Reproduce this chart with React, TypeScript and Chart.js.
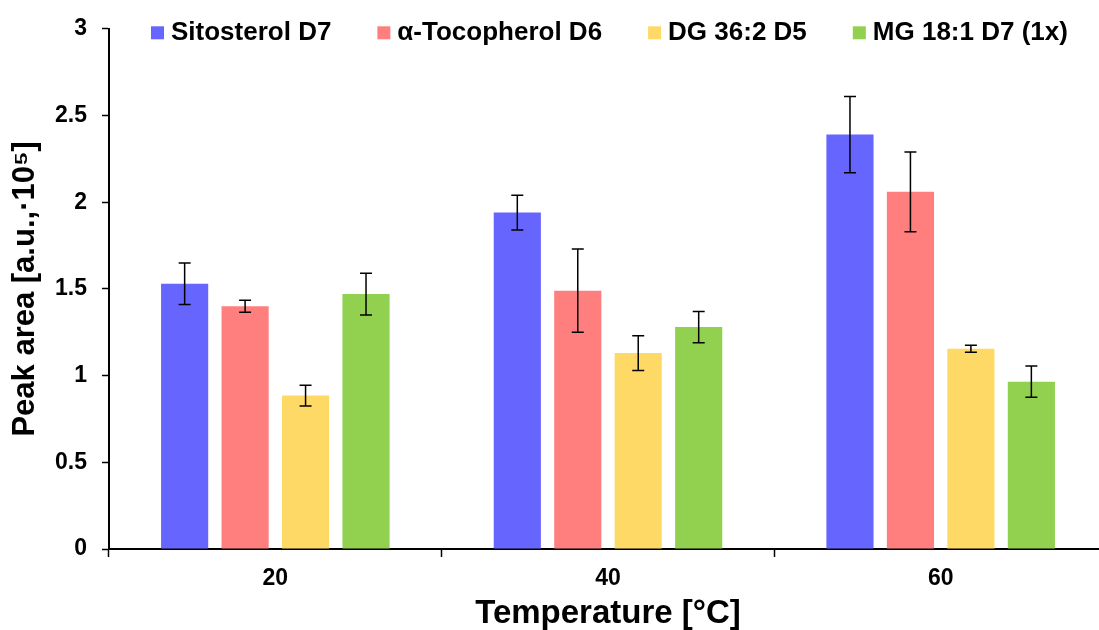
import React, { useEffect, useRef } from "react";
import { Chart, registerables } from "chart.js";

Chart.register(...registerables);

const categories = ["20", "40", "60"];
const seriesNames = ["Sitosterol D7", "α-Tocopherol D6", "DG 36:2 D5", "MG 18:1 D7 (1x)"];
const seriesColors = ["#6666FF", "#FF7F7F", "#FFD966", "#92D050"];
const sitosterol = [1.53, 1.94, 2.39];
const sitosterolErr = [0.12, 0.1, 0.22];
const tocopherol = [1.4, 1.49, 2.06];
const tocopherolErr = [0.035, 0.24, 0.23];
const dg = [0.885, 1.13, 1.155];
const dgErr = [0.06, 0.1, 0.02];
const mg = [1.47, 1.28, 0.965];
const mgErr = [0.12, 0.09, 0.09];
const yTicks = [0, 0.5, 1, 1.5, 2, 2.5, 3];

const seriesValues = [sitosterol, tocopherol, dg, mg];
const seriesErrors = [sitosterolErr, tocopherolErr, dgErr, mgErr];

const FONT = "'Liberation Sans', Arial, sans-serif";

const errorBarPlugin = {
  id: "errorBars",
  afterDatasetsDraw(chart: any) {
    const ctx = chart.ctx;
    const yScale = chart.scales.y;
    ctx.save();
    ctx.strokeStyle = "#000";
    ctx.lineWidth = 1.5;
    chart.data.datasets.forEach((ds: any, i: number) => {
      const meta = chart.getDatasetMeta(i);
      meta.data.forEach((bar: any, j: number) => {
        const v = ds.data[j];
        const e = ds.errors[j];
        const yTop = yScale.getPixelForValue(v + e);
        const yBot = yScale.getPixelForValue(v - e);
        const x = bar.x;
        const cap = 6;
        ctx.beginPath();
        ctx.moveTo(x, yTop);
        ctx.lineTo(x, yBot);
        ctx.moveTo(x - cap, yTop);
        ctx.lineTo(x + cap, yTop);
        ctx.moveTo(x - cap, yBot);
        ctx.lineTo(x + cap, yBot);
        ctx.stroke();
      });
    });
    ctx.restore();
  },
};

const legendPlugin = {
  id: "customLegend",
  afterDraw(chart: any) {
    const ctx = chart.ctx;
    const area = chart.chartArea;
    ctx.save();
    ctx.font = `bold 26px ${FONT}`;
    ctx.textBaseline = "middle";
    ctx.textAlign = "left";
    let x = area.left + 42;
    const yMid = area.top + 4;
    const box = 13;
    chart.data.datasets.forEach((ds: any) => {
      ctx.fillStyle = ds.backgroundColor;
      ctx.fillRect(x, yMid - box / 2, box, box);
      ctx.fillStyle = "#000";
      ctx.fillText(ds.label, x + box + 7, yMid);
      x += box + 7 + ctx.measureText(ds.label).width + 46;
    });
    ctx.restore();
  },
};

export default function App() {
  const ref = useRef<HTMLCanvasElement>(null);
  useEffect(() => {
    if (!ref.current) return;
    const chart = new Chart(ref.current, {
      type: "bar",
      data: {
        labels: categories,
        datasets: seriesNames.map((name, i) => ({
          label: name,
          data: seriesValues[i],
          errors: seriesErrors[i],
          backgroundColor: seriesColors[i],
          borderWidth: 0,
          categoryPercentage: 0.727,
          barPercentage: 0.78,
        })) as any,
      },
      options: {
        animation: false,
        responsive: false,
        maintainAspectRatio: false,
        layout: { padding: { top: 28, right: 0, left: 0, bottom: 0 } },
        plugins: {
          tooltip: { enabled: false },
          legend: { display: false },
        },
        scales: {
          x: {
            grid: {
              offset: true,
              drawOnChartArea: false,
              drawTicks: true,
              tickLength: 8,
              tickColor: "#000",
              tickWidth: 1.5,
            },
            border: { display: true, color: "#000", width: 2 },
            ticks: {
              color: "#000",
              padding: 8,
              font: { family: FONT, size: 23, weight: "bold" },
            },
            title: {
              display: true,
              text: "Temperature [°C]",
              color: "#000",
              padding: { top: 0, bottom: 0 },
              font: { family: FONT, size: 33, weight: "bold", lineHeight: 1.0 },
            },
            afterFit(scale: any) {
              scale.height = 81;
            },
          },
          y: {
            min: 0,
            max: 3,
            afterBuildTicks(scale: any) {
              scale.ticks = yTicks.map((v) => ({ value: v }));
            },
            grid: {
              drawOnChartArea: false,
              drawTicks: true,
              tickLength: 7,
              tickColor: "#000",
              tickWidth: 1.5,
            },
            border: { display: true, color: "#000", width: 2 },
            ticks: {
              color: "#000",
              padding: 15,
              font: { family: FONT, size: 23, weight: "bold" },
              callback: (v: any) => String(v),
            },
            title: {
              display: true,
              text: "Peak area [a.u.,·10⁵]",
              color: "#000",
              padding: { top: 7, bottom: 0 },
              font: { family: FONT, size: 31, weight: "bold", lineHeight: 1.2 },
            },
            afterFit(scale: any) {
              scale.width = 109;
            },
          },
        },
      },
      plugins: [errorBarPlugin, legendPlugin],
    });
    return () => chart.destroy();
  }, []);
  return (
    <div style={{ position: "fixed", left: 0, top: 0, width: 1099, height: 630, overflow: "hidden", background: "#fff" }}>
      <canvas ref={ref} width={1107} height={630} style={{ display: "block", width: 1107, height: 630 }} />
    </div>
  );
}
